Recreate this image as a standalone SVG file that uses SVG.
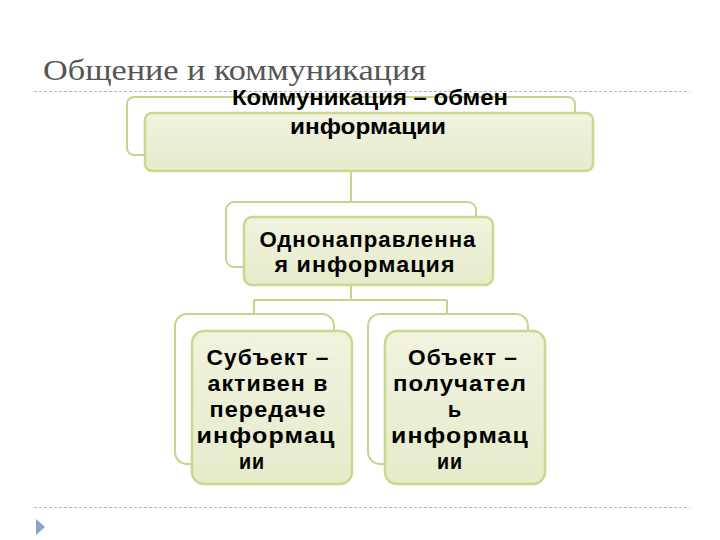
<svg xmlns="http://www.w3.org/2000/svg" width="720" height="540" viewBox="0 0 720 540">
<defs>
<linearGradient id="g" x1="0" y1="0" x2="0" y2="1">
<stop offset="0" stop-color="#f1f3df"/>
<stop offset="1" stop-color="#e6ebca"/>
</linearGradient>
</defs>
<style>
.back{fill:#ffffff;stroke:#c8d48e;stroke-width:2}
.front{fill:url(#g);stroke:#cbd78f;stroke-width:2.5}
.conn{fill:none;stroke:#c8d48e;stroke-width:2}
.t{font-family:"Liberation Sans",Arial,sans-serif;font-weight:bold;fill:#000;text-anchor:middle}
.s{font-size:22px;letter-spacing:1px}
.dash{stroke:#b4b4b4;stroke-width:1;stroke-dasharray:3,2}
</style>
<rect width="720" height="540" fill="#ffffff"/>
<text x="43" y="80" font-family="'Liberation Serif','Times New Roman',serif" font-size="30" fill="#555555" textLength="383" lengthAdjust="spacingAndGlyphs">Общение и коммуникация</text>
<line class="dash" x1="34" y1="91.5" x2="690" y2="91.5"/>
<line class="dash" x1="34" y1="507.5" x2="690" y2="507.5"/>
<polygon points="36,519 45,527 36,535" fill="#8aa5c4"/>
<g id="connectors">
<path class="conn" d="M351,171 V203"/>
<path class="conn" d="M351,285 V300 M254,300 H447 M254,300 V315 M447,300 V315"/>
</g>
<g id="n1">
<rect class="back" x="127" y="97" width="448" height="58" rx="7"/>
<rect class="front" x="145" y="113" width="448" height="58" rx="7"/>
<text class="t" x="370" y="105" font-size="22" textLength="276" lengthAdjust="spacingAndGlyphs">Коммуникация – обмен</text>
<text class="t" x="368" y="134" font-size="22" textLength="156" lengthAdjust="spacingAndGlyphs">информации</text>
</g>
<g id="n2">
<rect class="back" x="226" y="202" width="250" height="65" rx="8"/>
<rect class="front" x="244" y="217" width="249" height="68" rx="8"/>
<text class="t s" x="368" y="247" textLength="217" lengthAdjust="spacingAndGlyphs">Однонаправленна</text>
<text class="t s" x="365" y="272" textLength="181" lengthAdjust="spacingAndGlyphs">я информация</text>
</g>
<g id="n3">
<rect class="back" x="175" y="314" width="159" height="150" rx="12"/>
<rect class="front" x="192" y="331" width="160" height="153" rx="12"/>
<text class="t s" x="268" y="365" textLength="123" lengthAdjust="spacingAndGlyphs">Субъект –</text>
<text class="t s" x="268" y="391" textLength="121" lengthAdjust="spacingAndGlyphs">активен в</text>
<text class="t s" x="268" y="417" textLength="117" lengthAdjust="spacingAndGlyphs">передаче</text>
<text class="t s" x="266" y="443" textLength="139" lengthAdjust="spacingAndGlyphs">информац</text>
<text class="t s" x="252" y="469" textLength="26" lengthAdjust="spacingAndGlyphs">ии</text>
</g>
<g id="n4">
<rect class="back" x="368" y="314" width="160" height="150" rx="12"/>
<rect class="front" x="385" y="331" width="160" height="153" rx="12"/>
<text class="t s" x="463" y="365" textLength="110" lengthAdjust="spacingAndGlyphs">Объект –</text>
<text class="t s" x="460" y="391" textLength="134" lengthAdjust="spacingAndGlyphs">получател</text>
<text class="t s" x="455" y="417">ь</text>
<text class="t s" x="460" y="443" textLength="138" lengthAdjust="spacingAndGlyphs">информац</text>
<text class="t s" x="450" y="469" textLength="26" lengthAdjust="spacingAndGlyphs">ии</text>
</g>
</svg>
